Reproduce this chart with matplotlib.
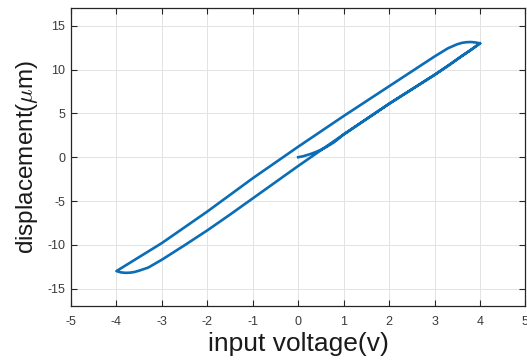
import numpy as np
import matplotlib
matplotlib.use("Agg")
import matplotlib.pyplot as plt

plt.rcParams['font.family'] = ['Liberation Sans', 'DejaVu Sans']
plt.rcParams['mathtext.fontset'] = 'cm'
plt.rcParams['axes.unicode_minus'] = False

# initial curve from the origin until it joins the ascending branch
init_x = [0.0, 0.1, 0.2, 0.3, 0.4, 0.5, 0.6, 0.7, 0.8]
init_y = [0.0, 0.1, 0.25, 0.42, 0.62, 0.85, 1.12, 1.42, 1.75]

# ascending (lower) branch, -4 -> 4
up_x = [-4.0, -3.9, -3.8, -3.7, -3.6, -3.5, -3.3, -3.0, -2.5, -2.0, -1.5, -1.0, -0.5, 0.0, 0.5, 1.0,
        1.5, 2.0, 2.5, 3.0, 3.3, 3.6, 3.8, 4.0]
up_y = [-13.0, -13.15, -13.2, -13.18, -13.1, -12.95, -12.6, -11.7, -10.05, -8.35, -6.55, -4.7, -2.85,
        -1.0, 0.8, 2.6, 4.35, 6.1, 7.75, 9.4, 10.45, 11.55, 12.25, 13.0]

# descending (upper) branch, 4 -> -4
dn_x = [4.0, 3.9, 3.8, 3.7, 3.6, 3.5, 3.3, 3.0, 2.5, 2.0, 1.5, 1.0, 0.5, 0.0, -0.5, -1.0, -1.5, -2.0,
        -2.5, -3.0, -3.5, -4.0]
dn_y = [13.0, 13.1, 13.15, 13.13, 13.05, 12.9, 12.45, 11.5, 9.8, 8.1, 6.4, 4.7, 2.95, 1.2, -0.6,
        -2.4, -4.3, -6.2, -8.0, -9.8, -11.4, -13.0]

x = init_x + up_x[up_x.index(1.0):] + dn_x[1:] + up_x[1:]
y = init_y + up_y[up_x.index(1.0):] + dn_y[1:] + up_y[1:]

fig = plt.figure(figsize=(5.27, 3.61), dpi=100)
ax = fig.add_axes([0.1347, 0.152, 0.8623, 0.825])
ax.plot(x, y, color='#0a6db5', linewidth=1.9, solid_joinstyle='round')

ax.set_xlim(-5, 5)
ax.set_ylim(-17, 17)
ax.set_xticks(np.arange(-5, 6, 1))
ax.set_yticks(np.arange(-15, 16, 5))
ax.grid(True, color='#e3e3e3', linewidth=0.7)
ax.set_axisbelow(True)
ax.tick_params(direction='in', top=True, right=True, length=4, width=0.8,
               colors='#262626', labelsize=9, labelcolor='#3a3a3a')
ax.tick_params(axis='x', pad=7)
ax.tick_params(axis='y', pad=4)
for s in ax.spines.values():
    s.set_color('#262626')
    s.set_linewidth(0.9)

ax.set_xlabel('input voltage(v)', fontsize=19, color='#1a1a1a', labelpad=3)
ax.set_ylabel(r'displacement($\mu$m)', fontsize=17.5, color='#1a1a1a', labelpad=5)

fig.savefig('out.png', dpi=100)
